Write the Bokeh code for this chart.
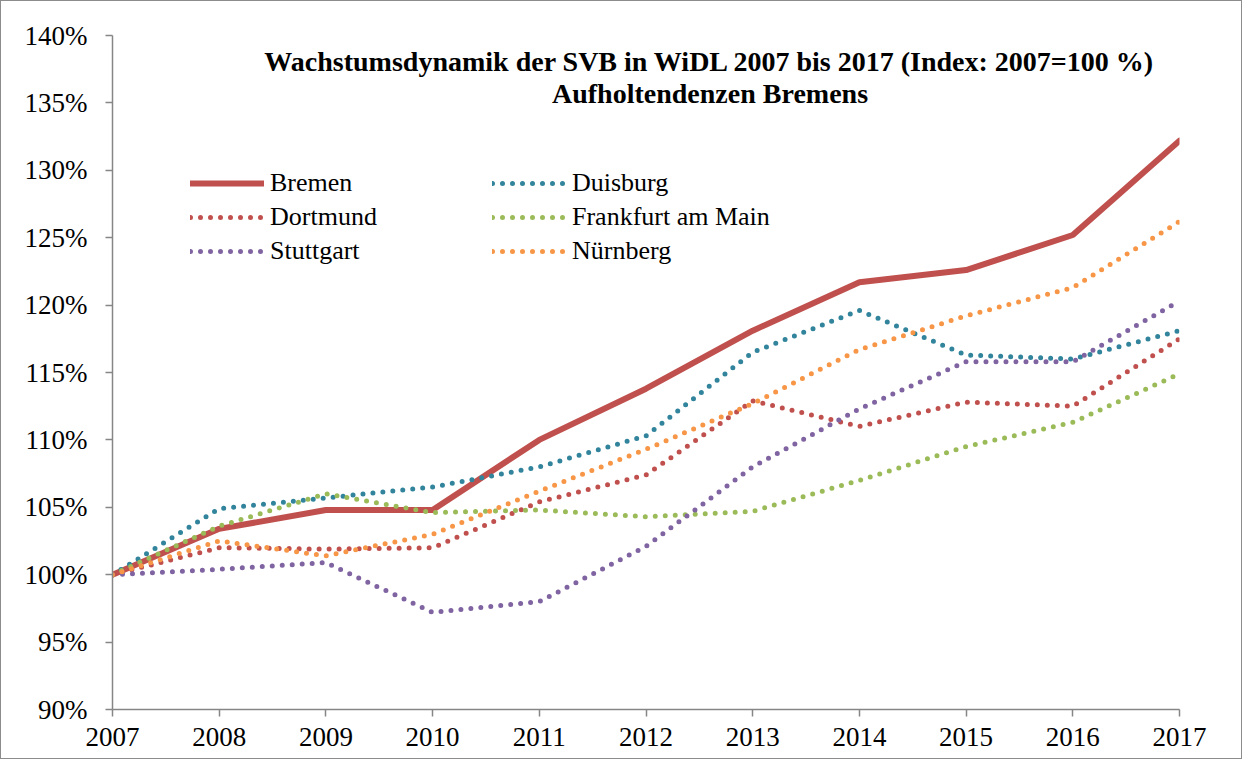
from bokeh.plotting import figure
from bokeh.models import ColumnDataSource, FixedTicker, Legend, LegendItem, Label, Range1d
from bokeh.embed import file_html
from bokeh.resources import INLINE

years = [2007, 2008, 2009, 2010, 2011, 2012, 2013, 2014, 2015, 2016, 2017]
bremen = [100, 103.4, 104.8, 104.8, 110.0, 113.8, 118.1, 121.7, 122.6, 125.2, 132.2]
duisburg = [100, 104.9, 105.7, 106.5, 108.0, 110.3, 116.5, 119.6, 116.3, 116.0, 118.1]
dortmund = [100, 102.0, 101.9, 102.0, 105.4, 107.4, 112.9, 111.0, 112.8, 112.5, 117.5]
frankfurt = [100, 103.6, 106.0, 104.6, 104.8, 104.3, 104.7, 107.0, 109.5, 111.3, 114.9]
stuttgart = [100, 100.4, 100.9, 97.2, 98.0, 102.1, 108.0, 112.3, 115.8, 115.8, 120.3]
nuernberg = [100, 102.5, 101.4, 103.0, 106.2, 109.3, 112.7, 116.7, 119.2, 121.3, 126.2]

y_ticks = [90, 95, 100, 105, 110, 115, 120, 125, 130, 135, 140]
y_tick_labels = ["90%", "95%", "100%", "105%", "110%", "115%", "120%", "125%", "130%", "135%", "140%"]
x_tick_labels = [str(y) for y in years]

title_line1 = "Wachstumsdynamik der SVB in WiDL 2007 bis 2017 (Index: 2007=100 %)"
title_line2 = "Aufholtendenzen Bremens"

series = [
    ("Bremen", bremen, "#C0504D", "solid"),
    ("Duisburg", duisburg, "#31849B", "dot"),
    ("Dortmund", dortmund, "#C0504D", "dot"),
    ("Frankfurt am Main", frankfurt, "#9BBB59", "dot"),
    ("Stuttgart", stuttgart, "#8064A2", "dot"),
    ("Nürnberg", nuernberg, "#F79646", "dot"),
]
legend_order = ["Bremen", "Dortmund", "Stuttgart", "Duisburg", "Frankfurt am Main", "Nürnberg"]

FONT = "Liberation Serif"

p = figure(width=1242, height=759, output_backend="svg", toolbar_location=None,
           x_range=Range1d(2007, 2017), y_range=Range1d(90, 140),
           min_border_left=111, min_border_right=64, min_border_top=34, min_border_bottom=51)
p.styles = {"border": "1px solid #8c8c8c"}
p.outline_line_color = None
p.xgrid.grid_line_color = None
p.ygrid.grid_line_color = None
p.background_fill_color = "white"
p.border_fill_color = "white"

for ax in (p.xaxis[0], p.yaxis[0]):
    ax.axis_line_color = "#868686"
    ax.axis_line_width = 1.5
    ax.major_tick_line_color = "#868686"
    ax.major_tick_line_width = 1.5
    ax.minor_tick_line_color = None
    ax.major_tick_in = 0
    ax.major_tick_out = 7
    ax.major_label_text_font = FONT
    ax.major_label_text_font_size = "27px"
    ax.major_label_text_color = "black"

p.yaxis[0].ticker = FixedTicker(ticks=y_ticks)
p.yaxis[0].major_label_overrides = {t: l for t, l in zip(y_ticks, y_tick_labels)}
p.yaxis[0].major_label_standoff = 18
p.xaxis[0].ticker = FixedTicker(ticks=years)
p.xaxis[0].major_label_overrides = {t: l for t, l in zip(years, x_tick_labels)}
p.xaxis[0].major_label_standoff = 11

renderers = {}
for name, vals, color, style in series:
    src = ColumnDataSource(dict(x=years, y=vals))
    if style == "solid":
        r = p.line("x", "y", source=src, line_color=color, line_width=6, line_join="round", line_cap="round")
    else:
        r = p.line("x", "y", source=src, line_color=color, line_width=5, line_dash="0 10",
                   line_cap="round", line_join="round")
    renderers[name] = r

legend = Legend(items=[LegendItem(label=n, renderers=[renderers[n]]) for n in legend_order],
                ncols=2, location=(78, 443), orientation="vertical")
legend.label_text_font = FONT
legend.label_text_font_size = "26px"
legend.label_text_color = "black"
legend.glyph_width = 74
legend.glyph_height = 30
legend.label_height = 30
legend.label_standoff = 6
legend.label_width = 218
legend.spacing = 4
legend.padding = 0
legend.margin = 0
legend.border_line_color = None
legend.background_fill_alpha = 0
p.add_layout(legend, "center")

p.add_layout(Label(x=2012.6, y=138.1, text=title_line1, text_align="center", text_baseline="middle",
                   text_font=FONT, text_font_size="28px", text_font_style="bold", text_color="black"))
p.add_layout(Label(x=2012.6, y=135.7, text=title_line2, text_align="center", text_baseline="middle",
                   text_font=FONT, text_font_size="28px", text_font_style="bold", text_color="black"))

open("out.html", "w").write(file_html(p, INLINE))
